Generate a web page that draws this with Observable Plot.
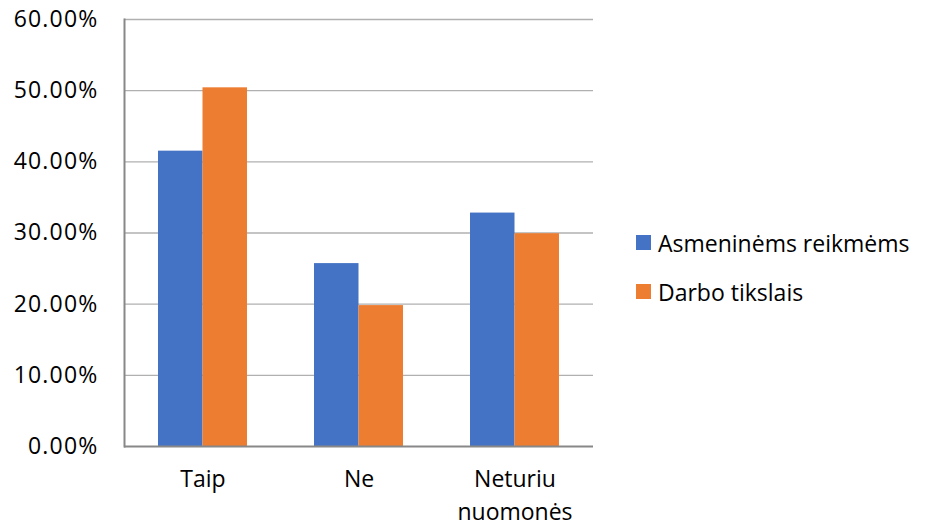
<!DOCTYPE html>
<html><head><meta charset="utf-8">
<script src="https://cdn.jsdelivr.net/npm/d3@7"></script>
<script src="https://cdn.jsdelivr.net/npm/@observablehq/plot@0.6"></script>
<style>
body{margin:0;background:#fff;font-family:"Open Sans",sans-serif;}
#chart{position:relative;width:934px;height:527px;}
#legend{position:absolute;left:636px;top:218px;font-size:23px;color:#000;}
.item{display:flex;align-items:center;height:49px;}
.sw{width:15px;height:15px;margin-right:7px;}
</style></head>
<body><div id="chart"><div id="legend"></div></div>
<script>
const categories = ["Taip", "Ne", "Neturiu nuomonės"];
const series = ["Asmeninėms reikmėms", "Darbo tikslais"];
const colors = ["#4472C4", "#ED7D31"];
const asmenines = [41.5, 25.7, 32.8];
const darbo = [50.4, 19.8, 29.9];
const yTicks = [0, 10, 20, 30, 40, 50, 60];

const dataA = categories.map((c, i) => ({category: c, value: asmenines[i]}));
const dataD = categories.map((c, i) => ({category: c, value: darbo[i]}));

const chart = Plot.plot({
  width: 934, height: 527,
  marginLeft: 124, marginRight: 341, marginTop: 19, marginBottom: 81,
  style: {fontFamily: "Open Sans", fontSize: "23px", color: "#000", background: "#fff"},
  x: {domain: categories, paddingInner: 0.431, paddingOuter: 0.2155, label: null},
  y: {domain: [0, 60], label: null},
  marks: [
    Plot.ruleY(yTicks.slice(1), {stroke: "#b0b0b0", strokeWidth: 1.3}),
    Plot.barY(dataA, {x: "category", y: "value", fill: colors[0], insetRight: 44.5}),
    Plot.barY(dataD, {x: "category", y: "value", fill: colors[1], insetLeft: 44.5}),
    Plot.ruleY([0], {stroke: "#888", strokeWidth: 2}),
    Plot.frame({anchor: "left", stroke: "#888", strokeWidth: 2}),
    Plot.axisY({ticks: yTicks, tickSize: 0, tickPadding: 26, tickFormat: d => d.toFixed(2) + "%", fontSize: 23}),
    Plot.axisX({tickSize: 0, tickPadding: 18, fontSize: 23, lineHeight: 1.4,
      tickFormat: d => d === "Neturiu nuomonės" ? "Neturiu\nnuomonės" : d})
  ]
});
document.getElementById("chart").prepend(chart);
chart.style.position = "absolute"; chart.style.left = "0"; chart.style.top = "0";
chart.querySelectorAll('[aria-label="y-axis tick label"] text').forEach(t => t.style.letterSpacing = "1.2px");

const legend = document.getElementById("legend");
series.forEach((s, i) => {
  const it = document.createElement("div"); it.className = "item";
  const sw = document.createElement("div"); sw.className = "sw"; sw.style.background = colors[i];
  const t = document.createElement("span"); t.textContent = s;
  it.append(sw, t); legend.append(it);
});
</script></body></html>
